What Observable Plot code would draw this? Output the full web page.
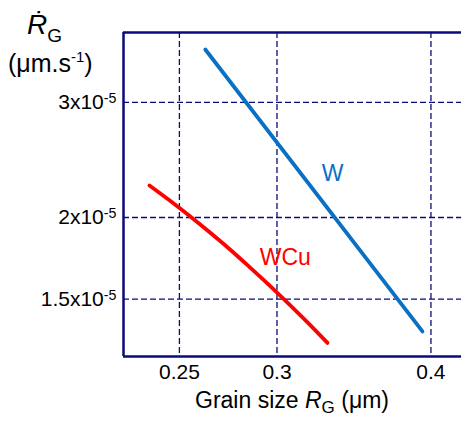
<!DOCTYPE html>
<html><head><meta charset="utf-8">
<script src="https://cdn.jsdelivr.net/npm/d3@7"></script>
<script src="https://cdn.jsdelivr.net/npm/@observablehq/plot@0.6"></script>
<style>
body{margin:0;background:#fff;font-family:"Liberation Sans",Arial,sans-serif}
#chart{position:relative;width:461px;height:423px}
</style></head><body><div id="chart"></div>
<script>
// ---- data ----
const wSize = [0.2624, 0.3937];
const wRate = [3.613e-5, 1.339e-5];
const wcuSize = [0.2364, 0.2454, 0.2547, 0.2644, 0.2745, 0.2849, 0.2958, 0.3071, 0.3188, 0.3297];
const wcuRate = [2.239e-5, 2.125e-5, 2.012e-5, 1.900e-5, 1.790e-5, 1.681e-5, 1.575e-5, 1.472e-5, 1.373e-5, 1.286e-5];
const xTicks = [0.25, 0.3, 0.4];
const xTickLabels = ["0.25", "0.3", "0.4"];
const yTicks = [1.5e-5, 2e-5, 3e-5];
const yTickMantissa = ["1.5", "2", "3"];
const yTickExponent = "-5";
const xDomain = [0.2252, 0.4235];
const yDomain = [1.226e-5, 3.836e-5];
const seriesNames = ["W", "WCu"];
const labelX = [0.3328, 0.3047];
const labelY = [2.335e-5, 1.737e-5];

const navy = "#0a0a7a";
const colors = {W: "#0a70c4", WCu: "#ff0000"};

const wData = wSize.map((s, i) => ({size: s, rate: wRate[i], series: "W"}));
const wcuData = wcuSize.map((s, i) => ({size: s, rate: wcuRate[i], series: "WCu"}));
const labels = seriesNames.map((n, i) => ({name: n, x: labelX[i], y: labelY[i]}));

const chart = Plot.plot({
  width: 461, height: 423,
  marginLeft: 123, marginRight: 0, marginTop: 32, marginBottom: 67,
  style: {fontFamily: "'Liberation Sans', Arial, sans-serif", background: "white", overflow: "visible"},
  x: {type: "log", domain: xDomain},
  y: {type: "log", domain: yDomain},
  marks: [
    Plot.ruleX(xTicks, {stroke: navy, strokeWidth: 1.3, strokeDasharray: "6,3"}),
    Plot.ruleY(yTicks, {stroke: navy, strokeWidth: 1.3, strokeDasharray: "6,3"}),
    Plot.line(wData, {x: "size", y: "rate", stroke: colors.W, strokeWidth: 3.8}),
    Plot.line(wcuData, {x: "size", y: "rate", stroke: colors.WCu, strokeWidth: 3.8, curve: "monotone-x"}),
    Plot.text(labels, {x: "x", y: "y", text: "name", fill: d => colors[d.name], fontSize: 23}),
    Plot.axisX(xTicks, {tickSize: 0, tickPadding: 8, fontSize: 21, fill: "black",
      tickFormat: d => xTickLabels[xTicks.indexOf(d)], label: null}),
    Plot.axisY(yTicks, {tickSize: 0, tickPadding: 7, fontSize: 21, fill: "black",
      tickFormat: d => yTickMantissa[yTicks.indexOf(d)] + "x10", label: null}),
    Plot.ruleX([xDomain[0]], {stroke: navy, strokeWidth: 2.5}),
    Plot.ruleY([yDomain[0], yDomain[1]], {stroke: navy, strokeWidth: 2.5})
  ]
});
document.getElementById("chart").appendChild(chart);

const svg = d3.select(chart);
// superscript exponent on y tick labels
svg.selectAll('g[aria-label="y-axis tick label"] text').each(function() {
  const t = d3.select(this);
  t.append("tspan").attr("dy", "-0.45em").attr("font-size", "0.68em").text(yTickExponent);
});

// x-axis title
const xt = svg.append("text").attr("x", 292).attr("y", 408).attr("text-anchor", "middle")
  .attr("font-size", 23).attr("fill", "black");
xt.append("tspan").text("Grain size ");
xt.append("tspan").attr("font-style", "italic").text("R");
xt.append("tspan").attr("font-size", 17).attr("dy", 5).text("G");
xt.append("tspan").attr("dy", -5).text(" (μm)");

// y-axis title (R with dot above, subscript G)
const yt = svg.append("text").attr("x", 27).attr("y", 34).attr("text-anchor", "start")
  .attr("font-size", 28).attr("fill", "black");
yt.append("tspan").attr("font-style", "italic").text("Ṙ");
yt.append("tspan").attr("font-size", 19).attr("dy", 8).text("G");
const yu = svg.append("text").attr("x", 8).attr("y", 72).attr("text-anchor", "start")
  .attr("font-size", 25).attr("fill", "black");
yu.append("tspan").text("(μm.s");
yu.append("tspan").attr("font-size", 15).attr("dy", -10).text("-1");
yu.append("tspan").attr("dy", 10).text(")");
</script></body></html>
